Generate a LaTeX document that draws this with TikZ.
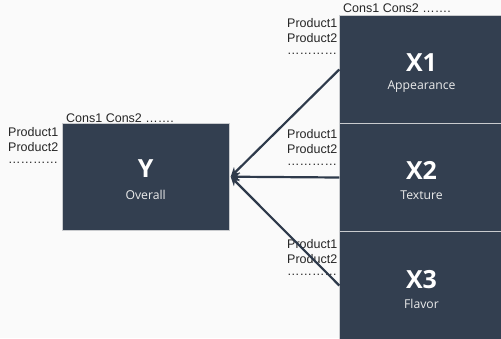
\documentclass[tikz,border=0pt]{standalone}
\usepackage{fontspec}
\setmainfont{Liberation Sans}
\newfontfamily\boxfont{Open Sans}
\usetikzlibrary{arrows.meta}
\definecolor{boxc}{HTML}{333F50}
\definecolor{linec}{HTML}{2E3A4B}
\definecolor{sepc}{HTML}{C9CBCE}
\definecolor{bgc}{HTML}{FAFAFA}
\tikzset{
  panel/.style={fill=boxc, draw=sepc, line width=1bp},
  lbl/.style={anchor=west, inner sep=0pt, font=\fontsize{12.5bp}{14bp}\selectfont, text=black!85},
  big/.style={inner sep=0pt, text=white, font=\boxfont\bfseries\fontsize{25bp}{28bp}\selectfont},
  sub/.style={inner sep=0pt, text=white!92!black, font=\boxfont\fontsize{12.2bp}{14bp}\selectfont},
  conn/.style={draw=linec, line width=2.2bp, -{Stealth[length=9bp,width=9bp]}}
}
\begin{document}
\begin{tikzpicture}[x=1bp,y=-1bp]
\fill[bgc] (0,0) rectangle (501,338);
\useasboundingbox (0,0) rectangle (501,338);
% boxes
\node[panel, minimum width=167bp, minimum height=107bp, inner sep=0pt] (Y) at (145.7,176.7) {};
\node[panel, minimum width=170bp, minimum height=108bp, inner sep=0pt, anchor=north west] (X1) at (339.3,15) {};
\node[panel, minimum width=170bp, minimum height=108bp, inner sep=0pt, anchor=north west] (X2) at (339.3,123) {};
\node[panel, minimum width=170bp, minimum height=108bp, inner sep=0pt, anchor=north west] (X3) at (339.3,231) {};
% box texts
\node[big] (ty) at (145.7,169) {Y};
\node[sub] (sy) at (145.7,195) {Overall};
\node[big] (t1) at (421.5,63) {X1};
\node[sub] (s1) at (421.5,87) {Appearance};
\node[big] (t2) at (421.5,170) {X2};
\node[sub] (s2) at (421.5,195) {Texture};
\node[big] (t3) at (421.5,280) {X3};
\node[sub] (s3) at (421.5,304) {Flavor};
% labels Y
\node[lbl] (cy) at (66,118) {Cons1 Cons2 …….};
\node[lbl] (py1) at (8,132) {Product1};
\node[lbl] (py2) at (8,147) {Product2};
\node[lbl] (py3) at (8,163) {…………};
% labels X1
\node[lbl] (c1) at (343,8) {Cons1 Cons2 …….};
\node[lbl] (p11) at (287,23) {Product1};
\node[lbl] (p12) at (287,38) {Product2};
\node[lbl] (p13) at (287,54) {…………};
% labels X2
\node[lbl] (p21) at (287,134) {Product1};
\node[lbl] (p22) at (287,149) {Product2};
\node[lbl] (p23) at (287,165) {…………};
% labels X3
\node[lbl] (p31) at (287,244) {Product1};
\node[lbl] (p32) at (287,259) {Product2};
\node[lbl] (p33) at (287,275) {…………};
% connectors
\coordinate (tip) at ([xshift=1bp]Y.east);
\draw[conn] (X1.west) -- (tip);
\draw[conn] (X2.west) -- (tip);
\draw[conn] (X3.west) -- (tip);
\end{tikzpicture}
\end{document}
